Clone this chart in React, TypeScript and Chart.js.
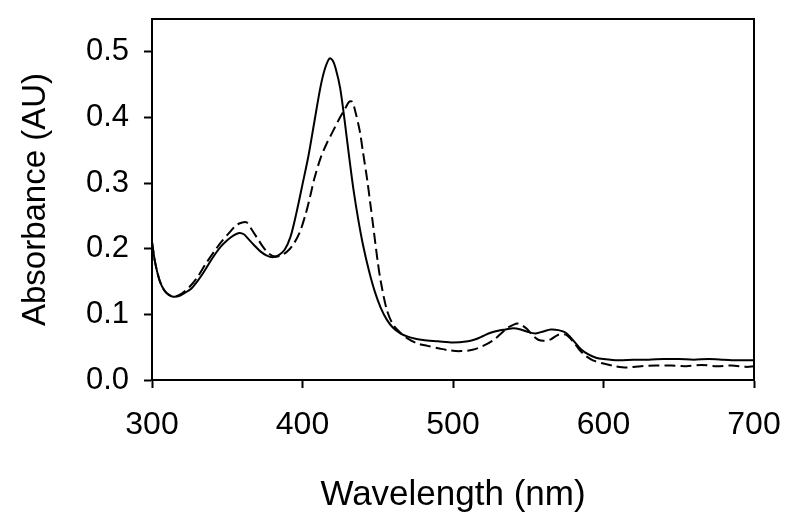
import React, { useEffect, useRef } from "react";
import { Chart, registerables } from "chart.js";

Chart.register(...registerables);

// Solid spectrum
const solidWavelength = [300, 302, 305, 308, 311, 314, 318, 322, 326, 330, 334, 338, 342, 346, 350, 354, 358, 361, 364, 368, 372, 376, 380, 384, 388, 392, 396, 400, 404, 408, 412, 415, 418, 420, 422, 425, 428, 431, 434, 437, 440, 444, 448, 452, 456, 460, 465, 470, 475, 480, 490, 500, 510, 515, 520, 525, 530, 535, 540, 545, 550, 555, 560, 565, 570, 575, 580, 585, 590, 595, 600, 610, 620, 630, 640, 650, 660, 670, 680, 690, 700];
const solidAbsorbance = [0.21, 0.18, 0.152, 0.137, 0.13, 0.127, 0.128, 0.133, 0.139, 0.15, 0.163, 0.178, 0.192, 0.204, 0.213, 0.22, 0.224, 0.222, 0.215, 0.205, 0.196, 0.19, 0.187, 0.19, 0.198, 0.218, 0.255, 0.298, 0.342, 0.395, 0.447, 0.475, 0.49, 0.487, 0.475, 0.445, 0.395, 0.34, 0.288, 0.245, 0.208, 0.168, 0.135, 0.11, 0.092, 0.08, 0.071, 0.066, 0.063, 0.061, 0.059, 0.057, 0.059, 0.062, 0.067, 0.072, 0.075, 0.077, 0.079, 0.077, 0.073, 0.071, 0.074, 0.077, 0.076, 0.072, 0.06, 0.047, 0.039, 0.034, 0.032, 0.03, 0.031, 0.031, 0.032, 0.032, 0.031, 0.032, 0.031, 0.03, 0.03];

// Dashed spectrum
const dashedWavelength = [300, 302, 305, 308, 311, 315, 320, 325, 330, 336, 342, 347, 352, 356, 360, 363, 366, 370, 374, 378, 382, 386, 390, 394, 398, 402, 405, 408, 412, 416, 420, 424, 428, 431, 433, 435, 438, 440, 443, 445, 447, 450, 452, 456, 460, 465, 470, 476, 483, 491, 498, 505, 513, 520, 527, 532, 536, 540, 543, 546, 549, 553, 557, 561, 565, 570, 575, 580, 584, 588, 593, 600, 608, 615, 625, 635, 645, 655, 665, 675, 685, 695, 700];
const dashedAbsorbance = [0.21, 0.18, 0.152, 0.137, 0.13, 0.127, 0.132, 0.142, 0.156, 0.178, 0.198, 0.213, 0.226, 0.236, 0.24, 0.24, 0.23, 0.216, 0.202, 0.192, 0.188, 0.19, 0.196, 0.207, 0.224, 0.252, 0.279, 0.308, 0.338, 0.36, 0.378, 0.396, 0.412, 0.424, 0.424, 0.41, 0.38, 0.35, 0.305, 0.27, 0.234, 0.18, 0.15, 0.107, 0.085, 0.072, 0.063, 0.056, 0.052, 0.048, 0.045, 0.044, 0.046, 0.052, 0.061, 0.071, 0.079, 0.084, 0.086, 0.083, 0.078, 0.068, 0.061, 0.06, 0.062, 0.069, 0.069, 0.058, 0.046, 0.037, 0.03, 0.025, 0.021, 0.019, 0.021, 0.022, 0.022, 0.021, 0.023, 0.021, 0.022, 0.02, 0.021];

const xTicks = [300, 400, 500, 600, 700];
const yTicks = [0.0, 0.1, 0.2, 0.3, 0.4, 0.5];

const FONT = "'Liberation Sans', Arial, Helvetica, sans-serif";

const framePlugin = {
  id: "frame",
  afterDatasetsDraw(chart: any) {
    const { ctx, chartArea } = chart;
    ctx.save();
    ctx.strokeStyle = "#000";
    ctx.lineWidth = 2;
    ctx.beginPath();
    ctx.moveTo(chartArea.left, chartArea.top);
    ctx.lineTo(chartArea.right, chartArea.top);
    ctx.lineTo(chartArea.right, chartArea.bottom);
    ctx.stroke();
    ctx.restore();
  },
};

export default function App() {
  const ref = useRef<HTMLCanvasElement | null>(null);

  useEffect(() => {
    document.body.style.margin = "0";
    const canvas = ref.current;
    if (!canvas) return;
    const solid = solidWavelength.map((x, i) => ({ x, y: solidAbsorbance[i] }));
    const dashed = dashedWavelength.map((x, i) => ({ x, y: dashedAbsorbance[i] }));
    const chart = new Chart(canvas, {
      type: "line",
      data: {
        datasets: [
          {
            label: "solid",
            data: solid,
            borderColor: "#000",
            borderWidth: 2,
            pointRadius: 0,
            tension: 0.3,
            fill: false,
          },
          {
            label: "dashed",
            data: dashed,
            borderColor: "#000",
            borderWidth: 2,
            borderDash: [11, 5],
            pointRadius: 0,
            tension: 0.3,
            fill: false,
          },
        ],
      },
      options: {
        responsive: false,
        animation: false,
        events: [],
        layout: { padding: { top: 19, right: 46, left: 0, bottom: 0 } },
        plugins: { legend: { display: false }, tooltip: { enabled: false } },
        scales: {
          x: {
            type: "linear",
            min: 300,
            max: 700,
            afterBuildTicks: (scale: any) => {
              scale.ticks = xTicks.map((v) => ({ value: v }));
            },
            afterFit: (scale: any) => {
              scale.height = 152;
              scale.paddingLeft = 0;
              scale.paddingRight = 0;
            },
            grid: {
              display: true,
              drawOnChartArea: false,
              drawTicks: true,
              tickLength: 8,
              tickWidth: 2,
              color: "#000",
            },
            border: { display: true, color: "#000", width: 2 },
            ticks: {
              color: "#000",
              font: { family: FONT, size: 32 },
              padding: 18,
              maxRotation: 0,
              autoSkip: false,
              callback: (v: any) => String(v),
            },
            title: {
              display: true,
              text: "Wavelength (nm)",
              color: "#000",
              font: { family: FONT, size: 35 },
              padding: { top: 0, bottom: 16 },
            },
          },
          y: {
            type: "linear",
            min: 0,
            max: 0.55,
            afterBuildTicks: (scale: any) => {
              scale.ticks = yTicks.map((v) => ({ value: v }));
            },
            afterFit: (scale: any) => {
              scale.width = 152;
              scale.paddingTop = 0;
              scale.paddingBottom = 0;
            },
            grid: {
              display: true,
              drawOnChartArea: false,
              drawTicks: true,
              tickLength: 8,
              tickWidth: 2,
              color: "#000",
            },
            border: { display: true, color: "#000", width: 2 },
            ticks: {
              color: "#000",
              font: { family: FONT, size: 31 },
              padding: 15,
              autoSkip: false,
              callback: (v: any) => Number(v).toFixed(1),
            },
            title: {
              display: true,
              text: "Absorbance (AU)",
              color: "#000",
              font: { family: FONT, size: 33 },
              padding: { top: 16, bottom: 0 },
            },
          },
        },
      },
      plugins: [framePlugin],
    });
    return () => chart.destroy();
  }, []);

  return (
    <div style={{ width: 800, height: 532, background: "#fff" }}>
      <canvas ref={ref} width={800} height={532} style={{ display: "block" }} />
    </div>
  );
}
